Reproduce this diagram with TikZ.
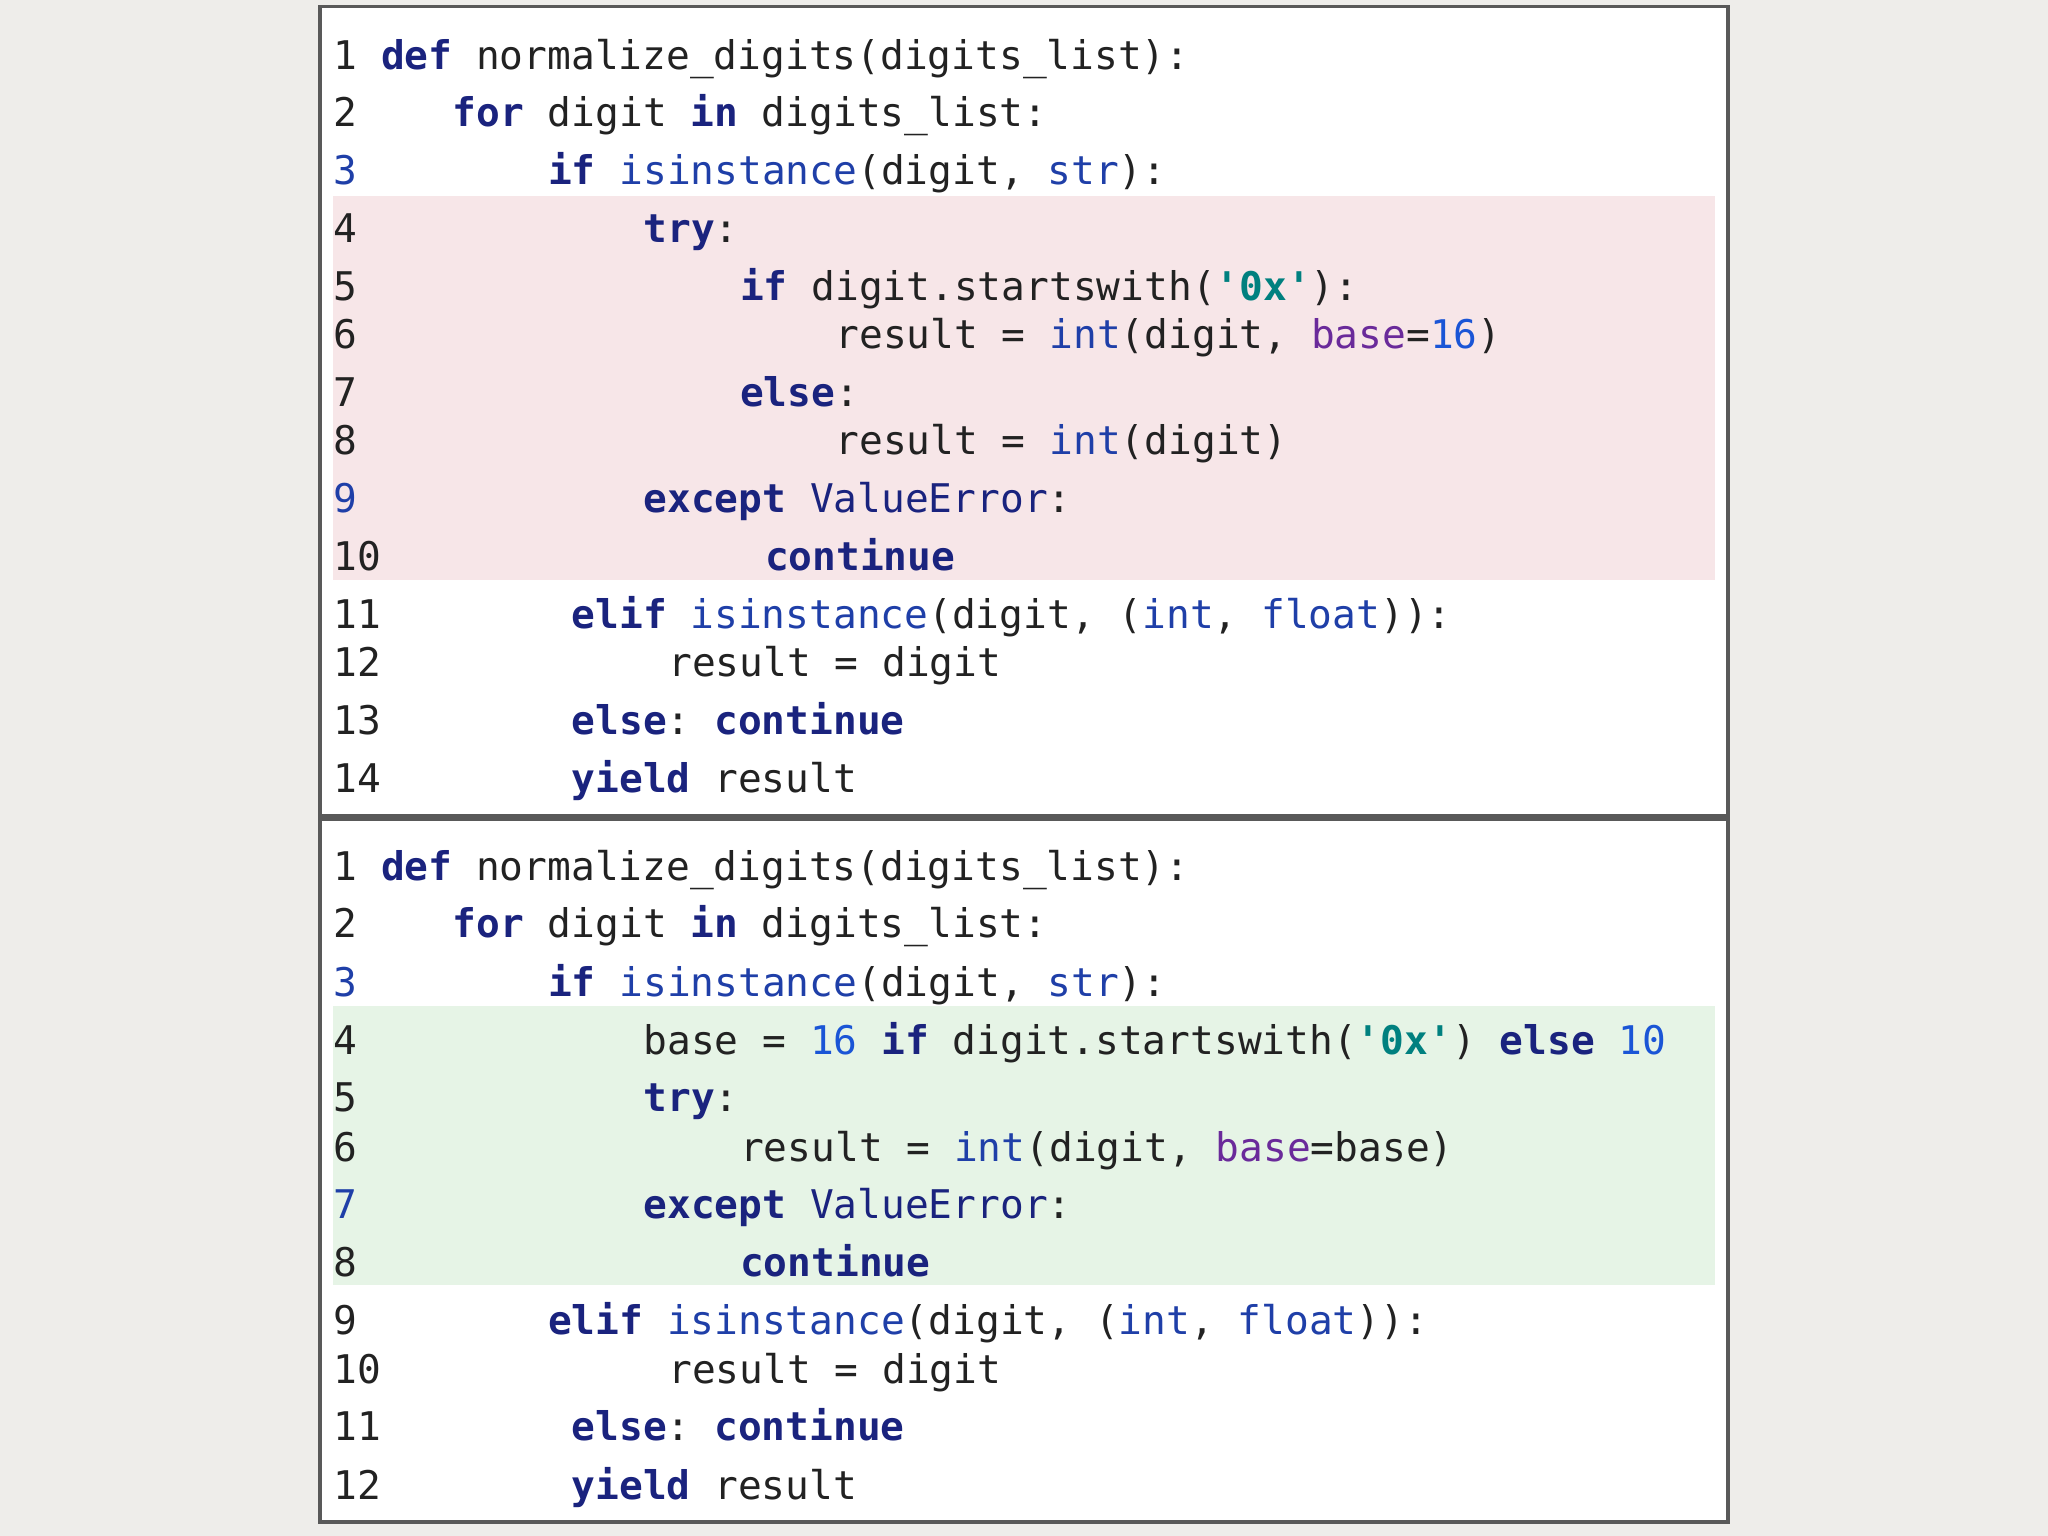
\documentclass[tikz,border=0pt]{standalone}
\usepackage{fontspec}
\setmonofont{DejaVu Sans Mono}
\definecolor{bg}{HTML}{EEEDEA}
\definecolor{kwc}{HTML}{1A237E}
\definecolor{bic}{HTML}{1F3FA8}
\definecolor{stc}{HTML}{00807F}
\definecolor{nmc}{HTML}{1A55D6}
\definecolor{pac}{HTML}{6A2A9A}
\definecolor{txc}{HTML}{222222}
\definecolor{pinkc}{HTML}{F7E6E8}
\definecolor{greenc}{HTML}{E6F4E6}
\newcommand{\kw}[1]{\textcolor{kwc}{\bfseries #1}}
\newcommand{\bi}[1]{\textcolor{bic}{#1}}
\newcommand{\stq}[1]{\textcolor{stc}{\bfseries #1}}
\newcommand{\nm}[1]{\textcolor{nmc}{#1}}
\newcommand{\pa}[1]{\textcolor{pac}{#1}}
\newcommand{\cv}[1]{\textcolor{kwc}{#1}}
\tikzset{code/.style={anchor=base west,inner sep=0,text=txc,font=\ttfamily\fontsize{8.6}{10}\selectfont},
box/.style={draw=black!65,line width=0.03cm,fill=white}}
\begin{document}
\begin{tikzpicture}[x=0.01cm,y=-0.01cm]
\fill[bg] (0,0) rectangle (1568,1176);
\draw[box] (245,5) rectangle (1323,625);
\draw[box] (245,627) rectangle (1323,1165);
\fill[pinkc] (255,150) rectangle (1313,444);
\fill[greenc] (255,770) rectangle (1313,984);
\begin{scope}[yshift=-0.03cm]
% top
\node[code] (n1) at (255,50) {1};
\node[code] (c1) at (291,50) {\kw{def} normalize\_digits(digits\_list):};
\node[code] (n2) at (255,94) {2};
\node[code] (c2) at (346,94) {\kw{for} digit \kw{in} digits\_list:};
\node[code] (n3) at (255,138) {\bi{3}};
\node[code] (c3) at (419,138) {\kw{if} \bi{isinstance}(digit, \bi{str}):};
\node[code] (n4) at (255,183) {4};
\node[code] (c4) at (492,183) {\kw{try}:};
\node[code] (n5) at (255,227) {5};
\node[code] (c5) at (566,227) {\kw{if} digit.startswith(\stq{'0x'}):};
\node[code] (n6) at (255,264) {6};
\node[code] (c6) at (639,264) {result = \bi{int}(digit, \pa{base}=\nm{16})};
\node[code] (n7) at (255,308) {7};
\node[code] (c7) at (566,308) {\kw{else}:};
\node[code] (n8) at (255,345) {8};
\node[code] (c8) at (639,345) {result = \bi{int}(digit)};
\node[code] (n9) at (255,389) {\bi{9}};
\node[code] (c9) at (492,389) {\kw{except} \cv{ValueError}:};
\node[code] (n10) at (255,434) {10};
\node[code] (c10) at (585,434) {\kw{continue}};
\node[code] (n11) at (255,478) {11};
\node[code] (c11) at (437,478) {\kw{elif} \bi{isinstance}(digit, (\bi{int}, \bi{float})):};
\node[code] (n12) at (255,515) {12};
\node[code] (c12) at (511,515) {result = digit};
\node[code] (n13) at (255,559) {13};
\node[code] (c13) at (437,559) {\kw{else}: \kw{continue}};
\node[code] (n14) at (255,604) {14};
\node[code] (c14) at (437,604) {\kw{yield} result};
% bottom
\node[code] (m1) at (255,671) {1};
\node[code] (d1) at (291,671) {\kw{def} normalize\_digits(digits\_list):};
\node[code] (m2) at (255,715) {2};
\node[code] (d2) at (346,715) {\kw{for} digit \kw{in} digits\_list:};
\node[code] (m3) at (255,760) {\bi{3}};
\node[code] (d3) at (419,760) {\kw{if} \bi{isinstance}(digit, \bi{str}):};
\node[code] (m4) at (255,804) {4};
\node[code] (d4) at (492,804) {base = \nm{16} \kw{if} digit.startswith(\stq{'0x'}) \kw{else} \nm{10}};
\node[code] (m5) at (255,848) {5};
\node[code] (d5) at (492,848) {\kw{try}:};
\node[code] (m6) at (255,886) {6};
\node[code] (d6) at (566,886) {result = \bi{int}(digit, \pa{base}=base)};
\node[code] (m7) at (255,930) {\bi{7}};
\node[code] (d7) at (492,930) {\kw{except} \cv{ValueError}:};
\node[code] (m8) at (255,974) {8};
\node[code] (d8) at (566,974) {\kw{continue}};
\node[code] (m9) at (255,1019) {9};
\node[code] (d9) at (419,1019) {\kw{elif} \bi{isinstance}(digit, (\bi{int}, \bi{float})):};
\node[code] (m10) at (255,1056) {10};
\node[code] (d10) at (511,1056) {result = digit};
\node[code] (m11) at (255,1100) {11};
\node[code] (d11) at (437,1100) {\kw{else}: \kw{continue}};
\node[code] (m12) at (255,1145) {12};
\node[code] (d12) at (437,1145) {\kw{yield} result};
\end{scope}
\end{tikzpicture}
\end{document}
